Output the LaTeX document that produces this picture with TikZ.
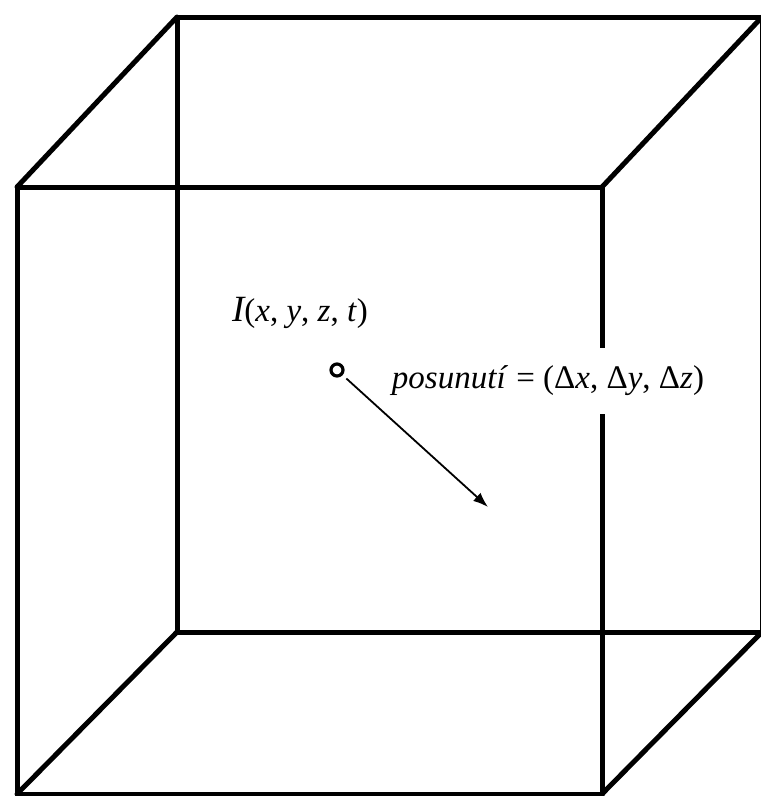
\documentclass[tikz,border=0pt]{standalone}
\usepackage{fontspec}
\setmainfont{Liberation Serif}
\usetikzlibrary{arrows.meta}

\begin{document}
\begin{tikzpicture}[x=1pt, y=-1pt,
      edge/.style={line width=5pt, line cap=round, line join=round},
      lbl/.style={font=\fontsize{33}{38}\selectfont, inner sep=0pt},
      arr/.style={-{Latex[length=15pt,width=11pt]}, line width=1.8pt}]
    \useasboundingbox (0,0) rectangle (761,796);
    % back face
    \coordinate (b1) at (177,17);
    \coordinate (b2) at (762,17);
    \coordinate (b3) at (762,632);
    \coordinate (b4) at (177,632);
    % front face
    \coordinate (f1) at (17,187);
    \coordinate (f2) at (602,187);
    \coordinate (f3) at (602,794);
    \coordinate (f4) at (17,794);
    \draw[edge] (b1) -- (b2) -- (b3) -- (b4) -- cycle;
    \draw[edge] (f1) -- (f2) -- (f3) -- (f4) -- cycle;
    \draw[edge] (b1) -- (f1);
    \draw[edge] (b2) -- (f2);
    \draw[edge] (b3) -- (f3);
    \draw[edge] (b4) -- (f4);
    % point and displacement
    \node[lbl] (pos) at (300,313) {{\fontsize{37}{40}\selectfont\itshape I}(\textit{x}, \textit{y}, \textit{z}, \textit{t})};
    \node[circle, draw, line width=3.2pt, minimum size=12pt, inner sep=0pt] (pt) at (337,370) {};
    \node[lbl, fill=white, inner ysep=18pt, inner xsep=2pt] (disp) at (548,381)
      {\textit{posunutí} = (Δ\textit{x}, Δ\textit{y}, Δ\textit{z})};
    \coordinate (tip) at (488,507);
    \draw[arr, shorten <=5pt] (pt) -- (tip);
\end{tikzpicture}
\end{document}
